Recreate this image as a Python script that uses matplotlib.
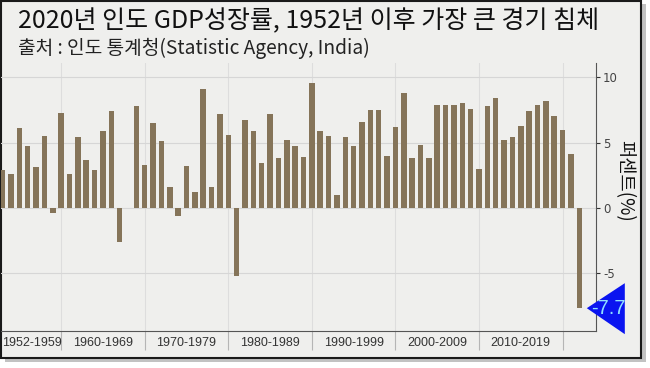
import matplotlib
matplotlib.use("Agg")
import matplotlib.pyplot as plt
from matplotlib.patches import Rectangle, Polygon

# 인도 GDP 성장률 (%) - 그림에서 읽은 값
years = list(range(1951, 2021))
growth = [2.9, 2.6, 6.1, 4.7, 3.1, 5.5, -0.4, 7.3, 2.6, 5.4,
          3.7, 2.9, 5.9, 7.4, -2.6, 0.0, 7.8, 3.3, 6.5, 5.1,
          1.6, -0.6, 3.2, 1.2, 9.1, 1.6, 7.2, 5.6, -5.2, 6.7,
          5.9, 3.4, 7.2, 3.8, 5.2, 4.7, 3.9, 9.6, 5.9, 5.5,
          1.0, 5.4, 4.7, 6.6, 7.5, 7.5, 4.0, 6.2, 8.8, 3.8,
          4.8, 3.8, 7.9, 7.9, 7.9, 8.0, 7.6, 3.0, 7.8, 8.4,
          5.2, 5.4, 6.3, 7.4, 7.9, 8.2, 7.0, 6.0, 4.1, -7.7]

decade_labels = ["1952-1959", "1960-1969", "1970-1979", "1980-1989",
                 "1990-1999", "2000-2009", "2010-2019"]
label_pos = [1954.5, 1963, 1973, 1983, 1993, 2003, 2013]
sep_pos = [1958, 1968, 1978, 1988, 1998, 2008, 2018]

title = "2020년 인도 GDP성장률, 1952년 이후 가장 큰 경기 침체"
source = "출처 : 인도 통계청(Statistic Agency, India)"

W, H = 650, 368
fig = plt.figure(figsize=(W / 100, H / 100), dpi=100)
fig.patch.set_facecolor("white")

# 액자 + 그림자 (축보다 뒤에)
fig.patches.append(Rectangle((5 / W, 1 - 362 / H), 641 / W, 358 / H,
                             transform=fig.transFigure, facecolor="#9a9a9a",
                             edgecolor="none", alpha=0.6, zorder=-3))
fig.patches.append(Rectangle((1 / W, 1 - 358 / H), 640 / W, 357 / H,
                             transform=fig.transFigure, facecolor="#efefed",
                             edgecolor="#1a1a1a", linewidth=1.5, zorder=-2))

ax = fig.add_axes([1 / W, 1 - 331 / H, 595 / W, 268 / H])
ax.set_facecolor("none")

ax.bar(years, growth, width=0.66, color="#857459", zorder=3)

ax.set_xlim(1950.8, 2022.0)
ax.set_ylim(-9.45, 11.1)

# 오른쪽 y축
ax.yaxis.tick_right()
ax.set_yticks([-5, 0, 5, 10])
ax.set_yticklabels(["-5", "0", "5", "10"])
ax.tick_params(axis="y", direction="out", length=3, color="#333333",
               labelsize=8.5, labelcolor="#444444", pad=2)
for s in ["left", "top"]:
    ax.spines[s].set_visible(False)
ax.spines["right"].set_color("#555555")
ax.spines["bottom"].set_color("#555555")
ax.spines["right"].set_linewidth(0.8)
ax.spines["bottom"].set_linewidth(0.8)

# x축: 구분선 틱 + 구간 라벨
ax.set_xticks(sep_pos)
ax.set_xticklabels([""] * len(sep_pos))
ax.tick_params(axis="x", which="major", direction="out", length=14,
               color="#b5b5b5", width=0.8)
ax.set_xticks(label_pos, minor=True)
ax.set_xticklabels(decade_labels, minor=True, fontsize=9,
                   family="Liberation Sans", color="#333333")
ax.tick_params(axis="x", which="minor", length=0, pad=4)

ax.grid(axis="y", color="#d6d6d6", linewidth=0.8, zorder=0)
ax.grid(axis="x", which="major", color="#dddddd", linewidth=0.8, zorder=0)

ax.text(1.048, 0.56, "퍼센트(%)", transform=ax.transAxes, rotation=-90,
        ha="center", va="center", fontsize=13.5,
        family=["Noto Sans CJK KR", "DejaVu Sans"], color="#111111")

fig.text(18 / W, 1 - 20 / H, title, fontsize=18, va="center", ha="left",
         family=["Noto Sans CJK KR", "DejaVu Sans"], color="#111111")
fig.text(18 / W, 1 - 48 / H, source, fontsize=13.8, va="center", ha="left",
         family=["Noto Sans CJK KR", "DejaVu Sans"], color="#222222")

# -7.7 표시 삼각형
fig.canvas.draw()
tx, ty = ax.transData.transform((years[-1] + 0.9, growth[-1]))
tri = Polygon([(tx, ty), (tx + 38, ty + 25), (tx + 38, ty - 26)],
              closed=True, transform=None, facecolor="#0a14f0",
              edgecolor="none", clip_on=False, zorder=5)
fig.patches.append(tri)
fig.text((tx + 22) / W, ty / H, "%.1f" % growth[-1], fontsize=14.5,
         ha="center", va="center", color="#8fe0ff",
         family="Liberation Sans", zorder=6)

fig.savefig("out.png", dpi=100)
